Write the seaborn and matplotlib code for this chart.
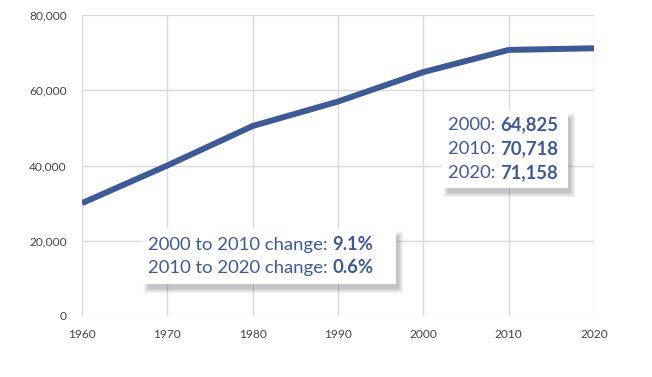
import matplotlib
matplotlib.use("Agg")
import matplotlib.pyplot as plt
import seaborn as sns
import pandas as pd
from matplotlib.patches import Rectangle

years = [1960, 1970, 1980, 1990, 2000, 2010, 2020]
population = [30000, 40000, 50500, 57000, 64825, 70718, 71158]
yticks = [0, 20000, 40000, 60000, 80000]
ytick_labels = ["0", "20,000", "40,000", "60,000", "80,000"]
box1_labels = ["2000: ", "2010: ", "2020: "]
box1_values = ["64,825", "70,718", "71,158"]
box2_labels = ["2000 to 2010 change: ", "2010 to 2020 change: "]
box2_values = ["9.1%", "0.6%"]

sns.set_style("white")
plt.rcParams["font.family"] = ["Lato", "DejaVu Sans"]

LINE = "#3e5a96"
TXT = "#3e5a96"
GRID = "#d9d9d9"
W, H = 652, 377

df = pd.DataFrame({"year": years, "pop": population})
fig = plt.figure(figsize=(W / 100, H / 100), dpi=100)
ax = fig.add_axes([82 / W, 1 - 316 / H, (594 - 82) / W, (316 - 15) / H])
sns.lineplot(data=df, x="year", y="pop", ax=ax, color=LINE, linewidth=4.3,
             solid_capstyle="butt", solid_joinstyle="round", zorder=3)
ax.set_xlim(1960, 2020)
ax.set_ylim(0, 80000)
ax.set_xticks(years)
ax.set_xticklabels([str(y) for y in years], fontsize=8.6, color="#444444")
ax.set_yticks(yticks)
ax.set_yticklabels(ytick_labels, fontsize=8.6, color="#444444")
ax.grid(True, color=GRID, linewidth=1)
for s in ax.spines.values():
    s.set_visible(False)
ax.tick_params(length=0, pad=11)
ax.tick_params(axis="x", pad=9)
ax.set_xlabel("")
ax.set_ylabel("")


def px_rect(x0, y0, x1, y1, **kw):
    r = Rectangle((x0 / W, 1 - y1 / H), (x1 - x0) / W, (y1 - y0) / H,
                  transform=fig.transFigure, **kw)
    fig.add_artist(r)
    return r


def shadow_box(x0, y0, x1, y1):
    dx, dy = 4, 6
    for k, a in [(5, 0.03), (4, 0.04), (3, 0.05), (2, 0.06), (1, 0.07), (0, 0.08)]:
        px_rect(x0 + dx - k + 2, y0 + dy - k + 2, x1 + dx + k - 1, y1 + dy + k - 1,
                facecolor="#404040", edgecolor="none", alpha=a, zorder=8)
    px_rect(x0, y0, x1, y1, facecolor="white", edgecolor="none", zorder=9)


fig.canvas.draw()
renderer = fig.canvas.get_renderer()


def text_rows(labels, values, x, baselines, fs):
    for lab, val, yb in zip(labels, values, baselines):
        t1 = fig.text(x / W, 1 - yb / H, lab, color=TXT, fontsize=fs,
                      va="baseline", ha="left", zorder=10)
        w = t1.get_window_extent(renderer).width
        fig.text((x + w) / W, 1 - yb / H, val, color=TXT, fontsize=fs,
                 fontweight="bold", va="baseline", ha="left", zorder=10)


shadow_box(442, 110, 568, 188)
text_rows(box1_labels, box1_values, 448, [130, 154, 178], 13.3)
shadow_box(142, 228, 396, 284)
text_rows(box2_labels, box2_values, 148, [250, 273], 13.3)

fig.savefig("out.png", dpi=100, facecolor="white")
